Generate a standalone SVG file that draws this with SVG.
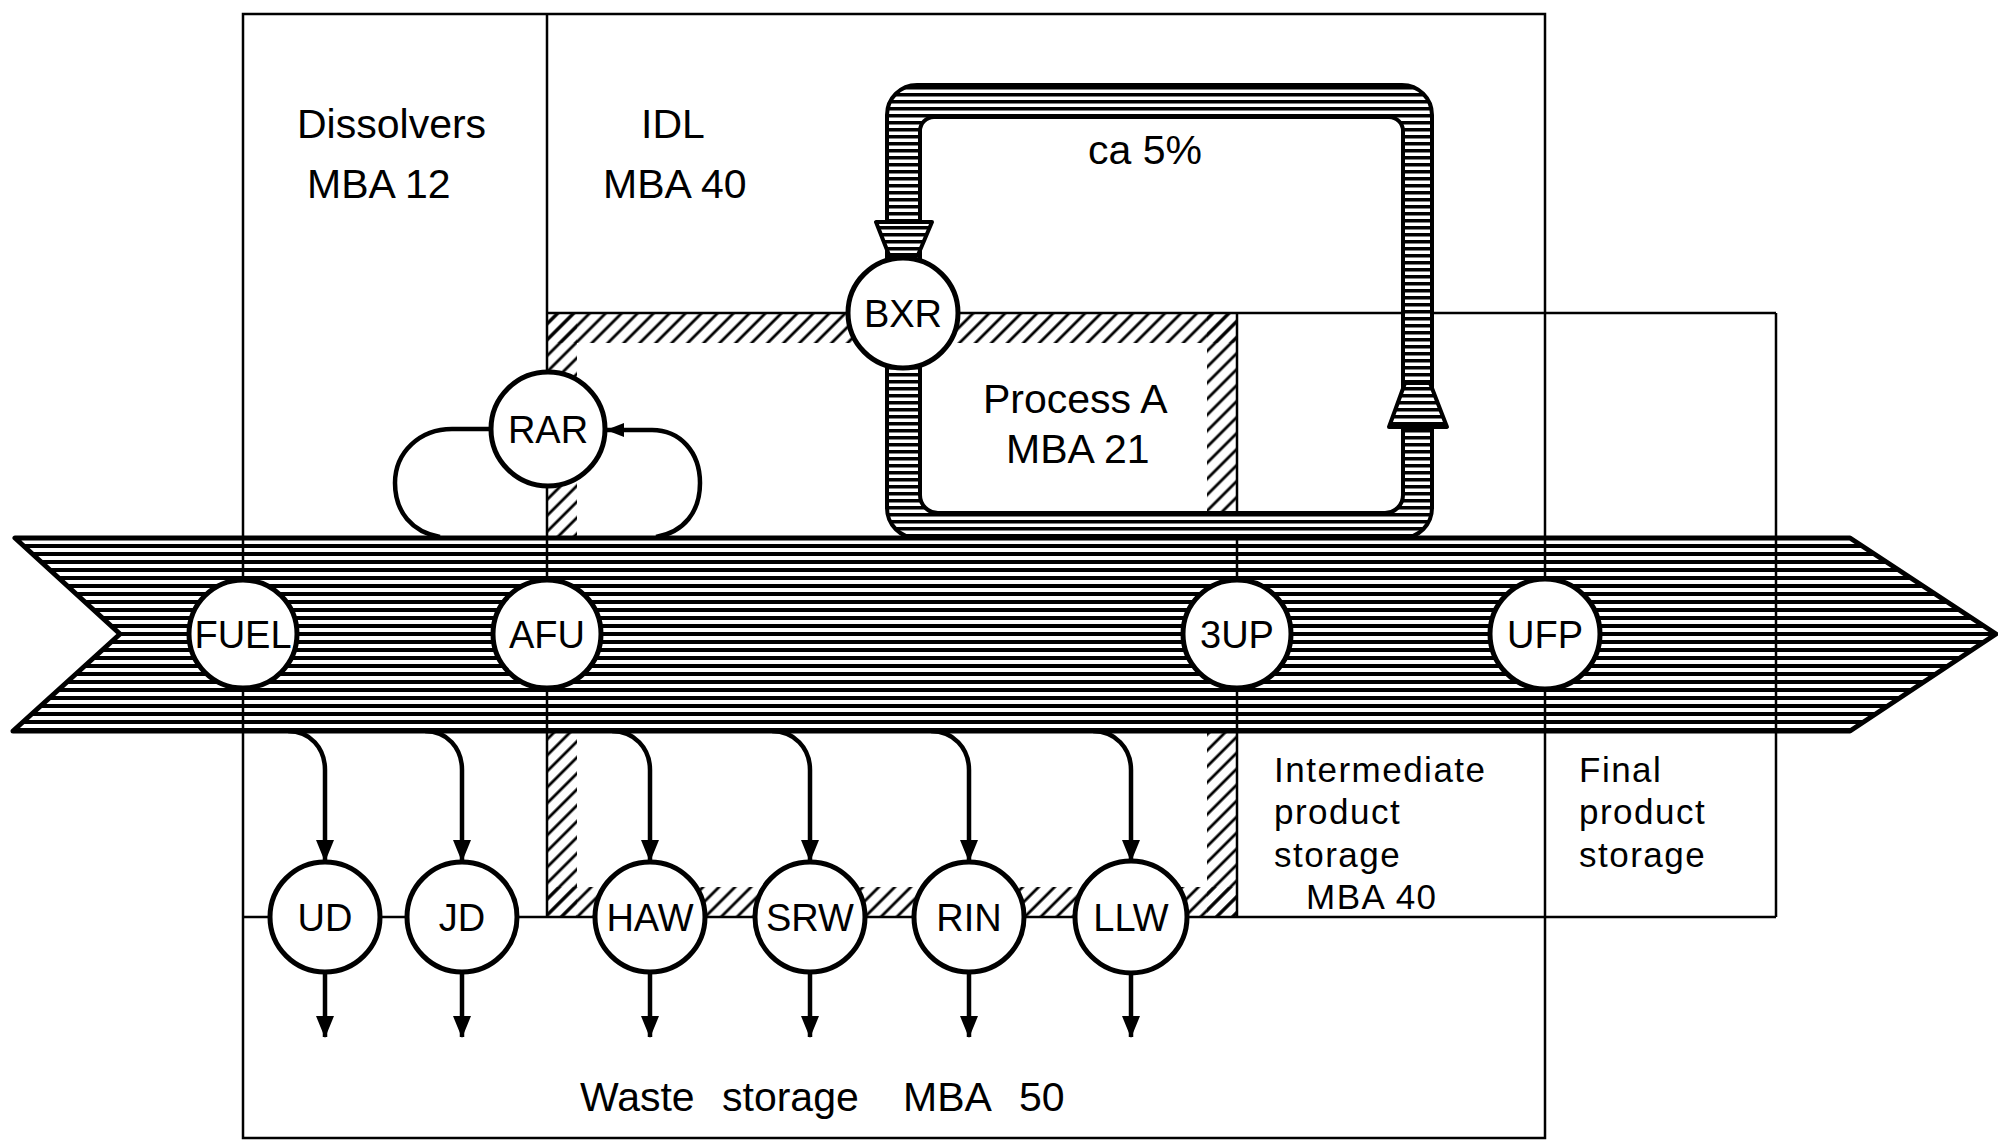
<svg xmlns="http://www.w3.org/2000/svg" width="1998" height="1142" viewBox="0 0 1998 1142">
<style>
.thin{stroke:#000;stroke-width:2.5;fill:none}
.conn{stroke:#000;stroke-width:4.5;fill:none}
.node circle{fill:#fff;stroke:#000;stroke-width:5}
.node text{font-family:"Liberation Sans",Arial,sans-serif;font-size:38px;text-anchor:middle;fill:#000}
.lbl{font-family:"Liberation Sans",Arial,sans-serif;font-size:41px;fill:#000}
.stk{font-family:"Liberation Sans",Arial,sans-serif;font-size:35px;letter-spacing:1.5px;fill:#000}
.hatch{fill:url(#diag);stroke:none}
.pipe{fill:url(#hlines2);stroke:#000;stroke-width:4;stroke-linejoin:round}
</style>
<defs>
<pattern id="hlines" patternUnits="userSpaceOnUse" width="20" height="8">
<rect width="20" height="8" fill="#fff"/>
<rect y="0" width="20" height="4" fill="#000"/>
</pattern>
<pattern id="hlines2" patternUnits="userSpaceOnUse" width="20" height="7">
<rect width="20" height="7" fill="#fff"/>
<rect y="2" width="20" height="3.5" fill="#000"/>
</pattern>
<pattern id="diag" patternUnits="userSpaceOnUse" width="11.3" height="11.3" patternTransform="rotate(45)">
<line x1="5.65" y1="0" x2="5.65" y2="11.3" stroke="#000" stroke-width="2.8"/>
</pattern>
<marker id="ah" viewBox="0 0 22 18" refX="21" refY="9" markerWidth="22" markerHeight="18" markerUnits="userSpaceOnUse" orient="auto">
<path d="M0,0 L22,9 L0,18 Z" fill="#000"/>
</marker>
<marker id="ahs" viewBox="0 0 18 14" refX="17" refY="7" markerWidth="18" markerHeight="14" markerUnits="userSpaceOnUse" orient="auto">
<path d="M0,0 L18,7 L0,14 Z" fill="#000"/>
</marker>
</defs>
<rect width="1998" height="1142" fill="#fff"/>

<g id="band">
<polygon points="15,538 1850,538 1996,634 1850,731 13,731 120,634" fill="url(#hlines)" stroke="#000" stroke-width="5" stroke-linejoin="round"/>
</g>

<g id="hatched-boundaries">
<rect class="hatch" x="547" y="313" width="690" height="30"/>
<rect class="hatch" x="547" y="313" width="30" height="225"/>
<rect class="hatch" x="1207" y="313" width="30" height="225"/>
<rect class="hatch" x="547" y="731" width="30" height="186"/>
<rect class="hatch" x="547" y="887" width="690" height="30"/>
<rect class="hatch" x="1207" y="731" width="30" height="186"/>
</g>

<g id="mba-lines">
<rect class="thin" x="243" y="14" width="1302" height="1124"/>
<line class="thin" x1="547" y1="14" x2="547" y2="917"/>
<line class="thin" x1="547" y1="313" x2="1776" y2="313"/>
<line class="thin" x1="1237" y1="313" x2="1237" y2="917"/>
<line class="thin" x1="1776" y1="313" x2="1776" y2="917"/>
<line class="thin" x1="243" y1="917" x2="1776" y2="917"/>
</g>

<g id="recycle-loop">
<path class="pipe" fill-rule="evenodd" d="M917,85 H1402 A30,30 0 0 1 1432,115 V508 A30,30 0 0 1 1402,538 H917 A30,30 0 0 1 887,508 V115 A30,30 0 0 1 917,85 Z M934,117 A14,14 0 0 0 920,131 V495 A18,18 0 0 0 938,513 H1385 A18,18 0 0 0 1403,495 V131 A14,14 0 0 0 1389,117 Z"/>
<polygon class="pipe" points="876,222 932,222 918,255 889,255"/>
<polygon class="pipe" points="1405,383 1430,383 1447,427 1389,427"/>
</g>

<g id="connectors">
<path class="conn" d="M490,429 H452 C420,429 395,452 395,483 C395,512 412,532 440,537"/>
<path class="conn" d="M656,537 C684,532 700,512 700,483 C700,452 680,430 652,430 H607" marker-end="url(#ahs)"/>
<path class="conn" d="M288,731 C310,731 325,748 325,770 V861" marker-end="url(#ah)"/>
<path class="conn" d="M425,731 C447,731 462,748 462,770 V861" marker-end="url(#ah)"/>
<path class="conn" d="M612,731 C634,731 650,748 650,770 V861" marker-end="url(#ah)"/>
<path class="conn" d="M772,731 C794,731 810,748 810,770 V861" marker-end="url(#ah)"/>
<path class="conn" d="M931,731 C953,731 969,748 969,770 V861" marker-end="url(#ah)"/>
<path class="conn" d="M1093,731 C1115,731 1131,748 1131,770 V861" marker-end="url(#ah)"/>
<line class="conn" x1="325" y1="972" x2="325" y2="1037" marker-end="url(#ah)"/>
<line class="conn" x1="462" y1="972" x2="462" y2="1037" marker-end="url(#ah)"/>
<line class="conn" x1="650" y1="972" x2="650" y2="1037" marker-end="url(#ah)"/>
<line class="conn" x1="810" y1="972" x2="810" y2="1037" marker-end="url(#ah)"/>
<line class="conn" x1="969" y1="972" x2="969" y2="1037" marker-end="url(#ah)"/>
<line class="conn" x1="1131" y1="972" x2="1131" y2="1037" marker-end="url(#ah)"/>
</g>

<g id="node-FUEL" class="node"><circle cx="243" cy="634" r="54"/><text x="243" y="648">FUEL</text></g>
<g id="node-AFU" class="node"><circle cx="547" cy="634" r="54"/><text x="547" y="648">AFU</text></g>
<g id="node-3UP" class="node"><circle cx="1237" cy="634" r="54"/><text x="1237" y="648">3UP</text></g>
<g id="node-UFP" class="node"><circle cx="1545" cy="634" r="55"/><text x="1545" y="648">UFP</text></g>
<g id="node-RAR" class="node"><circle cx="548" cy="429" r="57"/><text x="548" y="443">RAR</text></g>
<g id="node-BXR" class="node"><circle cx="903" cy="313" r="55"/><text x="903" y="327">BXR</text></g>
<g id="node-UD" class="node"><circle cx="325" cy="917" r="55"/><text x="325" y="931">UD</text></g>
<g id="node-JD" class="node"><circle cx="462" cy="917" r="55"/><text x="462" y="931">JD</text></g>
<g id="node-HAW" class="node"><circle cx="650" cy="917" r="55"/><text x="650" y="931">HAW</text></g>
<g id="node-SRW" class="node"><circle cx="810" cy="917" r="55"/><text x="810" y="931">SRW</text></g>
<g id="node-RIN" class="node"><circle cx="969" cy="917" r="55"/><text x="969" y="931">RIN</text></g>
<g id="node-LLW" class="node"><circle cx="1131" cy="917" r="56"/><text x="1131" y="931">LLW</text></g>

<g id="labels">
<text class="lbl" x="297" y="138">Dissolvers</text>
<text class="lbl" x="307" y="198">MBA 12</text>
<text class="lbl" x="641" y="138">IDL</text>
<text class="lbl" x="603" y="198">MBA 40</text>
<text class="lbl" x="1088" y="164">ca 5%</text>
<text class="lbl" x="983" y="413">Process A</text>
<text class="lbl" x="1006" y="463">MBA 21</text>
<text class="stk" x="1274" y="782">Intermediate</text>
<text class="stk" x="1274" y="824">product</text>
<text class="stk" x="1274" y="867">storage</text>
<text class="stk" x="1306" y="909">MBA 40</text>
<text class="stk" x="1579" y="782">Final</text>
<text class="stk" x="1579" y="824">product</text>
<text class="stk" x="1579" y="867">storage</text>
<text class="lbl" y="1111"><tspan x="580">Waste</tspan><tspan x="722">storage</tspan><tspan x="903">MBA</tspan><tspan x="1019">50</tspan></text>
</g>
</svg>
